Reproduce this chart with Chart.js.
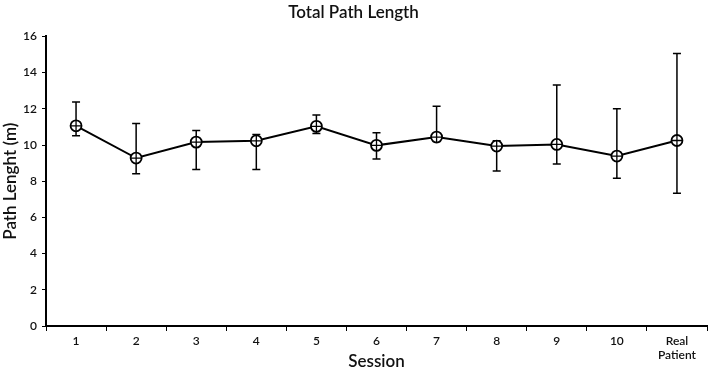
<!DOCTYPE html>
<html>
<head>
<meta charset="utf-8">
<script src="https://cdn.jsdelivr.net/npm/chart.js@4.4.0/dist/chart.umd.min.js"></script>
<style>
  html, body { margin: 0; padding: 0; background: #fff; }
  #wrap { width: 709px; height: 372px; }
</style>
</head>
<body>
<div id="wrap"><canvas id="chart"></canvas></div>
<script>
const sessions = ["1","2","3","4","5","6","7","8","9","10",["Real","Patient"]];
const meanLength = [11.06, 9.28, 10.16, 10.23, 11.03, 9.98, 10.44, 9.94, 10.03, 9.39, 10.25];
const upperBound = [12.37, 11.19, 10.80, 10.58, 11.66, 10.67, 12.14, 10.23, 13.32, 12.00, 15.05];
const lowerBound = [10.51, 8.41, 8.65, 8.65, 10.64, 9.22, 10.20, 8.56, 8.95, 8.16, 7.33];
const yTicks = [0, 2, 4, 6, 8, 10, 12, 14, 16];

const FONT = "Lato, 'Open Sans', sans-serif";

/* error bars, drawn under the markers */
const errorBars = {
  id: "errorBars",
  beforeDatasetsDraw(chart) {
    const ctx = chart.ctx;
    const x = chart.scales.x, y = chart.scales.y;
    ctx.save();
    ctx.strokeStyle = "#000";
    ctx.lineWidth = 1.5;
    meanLength.forEach((v, i) => {
      const px = x.getPixelForValue(i);
      const top = y.getPixelForValue(upperBound[i]);
      const bot = y.getPixelForValue(lowerBound[i]);
      ctx.beginPath();
      ctx.moveTo(px, top); ctx.lineTo(px, bot);
      ctx.moveTo(px - 4, top); ctx.lineTo(px + 4, top);
      ctx.moveTo(px - 4, bot); ctx.lineTo(px + 4, bot);
      ctx.stroke();
    });
    ctx.restore();
  }
};

new Chart(document.getElementById("chart"), {
  type: "line",
  data: {
    labels: sessions,
    datasets: [
      {
        data: meanLength,
        order: 1,
        borderColor: "#000",
        borderWidth: 2,
        pointStyle: "circle",
        pointRadius: 5.5,
        pointBorderWidth: 1.8,
        pointBackgroundColor: "#fff",
        pointBorderColor: "#000",
        tension: 0
      },
      {
        data: meanLength,
        order: 0,
        showLine: false,
        pointStyle: "cross",
        pointRadius: 5.5,
        pointBorderWidth: 1.3,
        pointBorderColor: "#000"
      }
    ]
  },
  options: {
    responsive: true,
    maintainAspectRatio: false,
    animation: false,
    layout: { autoPadding: false, padding: { left: 0, right: 2, top: 0, bottom: 0 } },
    plugins: {
      legend: { display: false },
      tooltip: { enabled: false },
      title: {
        display: true,
        text: "Total Path Length",
        color: "#111",
        font: { family: FONT, size: 17, weight: "600" },
        padding: { top: 2, bottom: 14 }
      }
    },
    scales: {
      x: {
        offset: true,
        grid: { display: true, drawOnChartArea: false, drawTicks: true, tickLength: 5, color: "#000", offset: true },
        border: { color: "#000", width: 2 },
        ticks: { color: "#111", font: { family: FONT, size: 12, weight: "600" }, padding: 3, maxRotation: 0, autoSkip: false },
        title: { display: true, text: "Session", color: "#111", font: { family: FONT, size: 17, weight: "600" }, padding: 0 },
        afterFit(s) {
          s.height = 46;
          s.paddingLeft = 0;
          s.paddingRight = 0;
        }
      },
      y: {
        min: 0,
        max: 16,
        afterBuildTicks(s) { s.ticks = yTicks.map(v => ({ value: v })); },
        grid: { display: true, drawOnChartArea: false, drawTicks: true, tickLength: 4, color: "#000" },
        border: { color: "#000", width: 2 },
        ticks: { color: "#111", font: { family: FONT, size: 12, weight: "600" }, padding: 5 },
        title: { display: true, text: "Path Lenght (m)", color: "#111", font: { family: FONT, size: 17, weight: "600" }, padding: 0 },
        afterFit(s) { s.width = 46; }
      }
    }
  },
  plugins: [errorBars]
});
</script>
</body>
</html>
